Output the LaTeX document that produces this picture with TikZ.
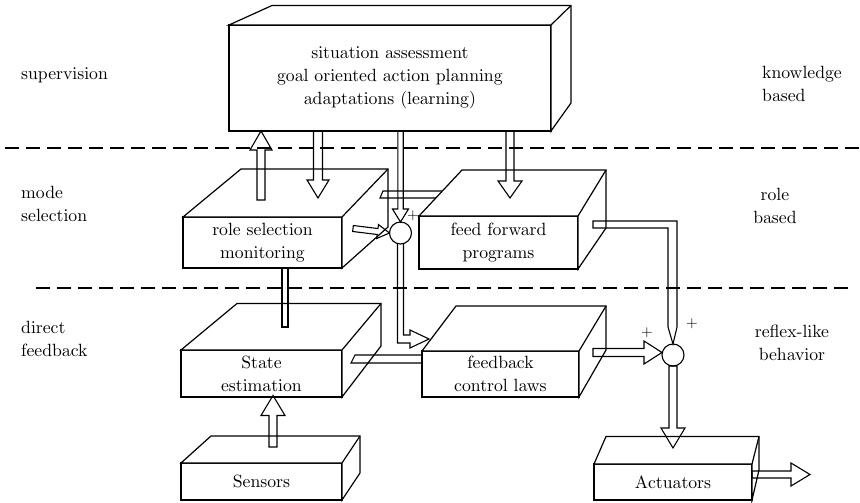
\documentclass[tikz,border=0pt]{standalone}
\usetikzlibrary{calc}
\font\mainlbl=cmr10 at 17.7pt
\font\pluslbl=cmr10 at 15pt
\newcommand\lblfont{\mainlbl\baselineskip=23pt}
\newcommand\plusfont{\pluslbl}
\tikzset{
  face/.style={draw, fill=white, line width=1.2pt, inner sep=0pt, outer sep=0pt, align=center, font=\lblfont},
  boxline/.style={draw, fill=white, line width=1.2pt, line join=miter},
  arrline/.style={draw, line width=1.1pt, line join=miter},
  sumnode/.style={circle, draw, fill=white, line width=1.1pt, minimum size=22pt, inner sep=0pt, outer sep=0pt},
  lbl/.style={inner sep=0pt, font=\lblfont},
  plus/.style={inner sep=0pt, font=\plusfont},
  layerline/.style={line width=2.5pt, dash pattern=on 14pt off 7pt}
}
\newcommand\faces[5]{%
  \filldraw[boxline] (#1.north west) -- (#2,#3) -- (#4,#3) -- (#4,#5) -- (#1.south east) -- (#1.north east) -- cycle;
  \draw[boxline] (#1.north east) -- (#4,#3);}
\newcommand\hollow[5]{%
  \coordinate (hb) at ($(#2)!#5pt!(#1)$);
  \draw[arrline] ($(#1)!#3pt!90:(#2)$) -- ($(hb)!#3pt!-90:(#1)$) -- ($(hb)!#4pt!-90:(#1)$) -- (#2)
    -- ($(hb)!#4pt!90:(#1)$) -- ($(hb)!#3pt!90:(#1)$) -- ($(#1)!#3pt!-90:(#2)$) -- cycle;}
\begin{document}
\begin{tikzpicture}[x=1pt, y=-1pt]
\useasboundingbox (0,0) rectangle (860,503);

% layer separators
\coordinate (d1a) at (5,148);
\coordinate (d1b) at (860,148);
\coordinate (d2a) at (36,288);
\coordinate (d2b) at (848,288);
\draw[layerline] (d1a) -- (d1b);
\draw[layerline] (d2a) -- (d2b);

% layer labels
\node[lbl, anchor=west] (lsup) at (21,75) {supervision};
\node[lbl, anchor=west, align=left] (lmode) at (21,203.5) {mode\\selection};
\node[lbl, anchor=west, align=left] (ldir) at (21,338.5) {direct\\feedback};
\node[lbl, anchor=west, align=left] (lkn) at (762,84) {knowledge\\based};
\node[lbl, align=center] (lrole) at (775,206) {role\\based};
\node[lbl, align=center] (lrefl) at (792,342.5) {reflex-like\\behavior};

% boxes (front faces)
\node[face, minimum width=322pt, minimum height=106pt] (top) at (390,78) {situation assessment\\goal oriented action planning\\adaptations (learning)};
\faces{top}{272}{5.5}{571}{103}
\node[face, minimum width=159pt, minimum height=51pt] (role) at (262.5,242.5) {role selection\\monitoring};
\faces{role}{241}{169}{388}{227}
\node[face, minimum width=159pt, minimum height=53pt] (ff) at (498.5,242.5) {feed forward\\programs};
\faces{ff}{462}{170}{606}{228}
\node[face, minimum width=161pt, minimum height=47pt] (state) at (261.5,373.5) {State\\estimation};
\faces{state}{237}{303.5}{381}{346}
\node[face, minimum width=157pt, minimum height=46pt] (fb) at (500.5,374) {feedback\\control laws};
\faces{fb}{456}{306}{606}{350}
\node[face, minimum width=161pt, minimum height=37pt] (sens) at (261.5,481.5) {Sensors};
\faces{sens}{211}{436}{360}{473}
\node[face, minimum width=158pt, minimum height=36pt] (act) at (673,482) {Actuators};
\faces{act}{606}{436.5}{759}{470}

% summation points
\node[sumnode] (c1) at (400.5,233) {};
\node[sumnode] (c2) at (673,355) {};
\node[plus] (p1) at (413,216) {+};
\node[plus] (p2) at (647,333) {+};
\node[plus] (p3) at (692,324) {+};

% hollow arrows
\coordinate (a1s) at (261,200);
\coordinate (a1e) at (a1s |- top.south);
\hollow{a1s}{a1e}{4}{11}{19}
\coordinate (a2s) at (318,131);
\coordinate (a2e) at (318,198);
\hollow{a2s}{a2e}{4.5}{11}{18}
\coordinate (a3s) at (400.5,131);
\hollow{a3s}{c1.north}{2.7}{8}{13}
\coordinate (a4s) at (510,131);
\coordinate (a4e) at (510,198);
\hollow{a4s}{a4e}{4}{12}{17}
\coordinate (a5s) at (353,228.5);
\hollow{a5s}{c1.west}{3}{7}{12}
\coordinate (a10s) at (273,447);
\coordinate (a10e) at (273,395.5);
\hollow{a10s}{a10e}{4}{12}{20}
\coordinate (a11s) at (593,352.5);
\coordinate (a11e) at ($(c2.west)+(0,-2.5)$);
\hollow{a11s}{a11e}{4}{11.5}{18}
\coordinate (a13e) at (673,448);
\hollow{c2.south}{a13e}{4}{12}{20}
\coordinate (a14s) at (752,474.5);
\coordinate (a14e) at (810,474.5);
\hollow{a14s}{a14e}{3.5}{11.5}{19}

% bars
\draw[arrline] (442,191) -- (383,191) -- (380,198) -- (436,198);
\draw[arrline] (fb.west |- 0,355) -- (355,355) -- (351,363) -- (fb.west |- 0,363);
\draw[arrline] (282,268) -- (282,327) -- (288,327) -- (288,268);

% L-shaped arrow c1 -> feedback control laws
\draw[arrline] ($(c1.south)+(-3,0)$) -- (397.5,343) -- (410,343) -- (410,348) -- (429,339) -- (410,330) -- (410,335) -- (403.5,335) -- ($(c1.south)+(3,0)$);

% L-shaped arrow feed forward -> c2
\draw[arrline] (593,221) -- (677,221) -- (677,327) -- (c2.north) -- (668,327) -- (668,228) -- (593,228) -- cycle;
\end{tikzpicture}
\end{document}
